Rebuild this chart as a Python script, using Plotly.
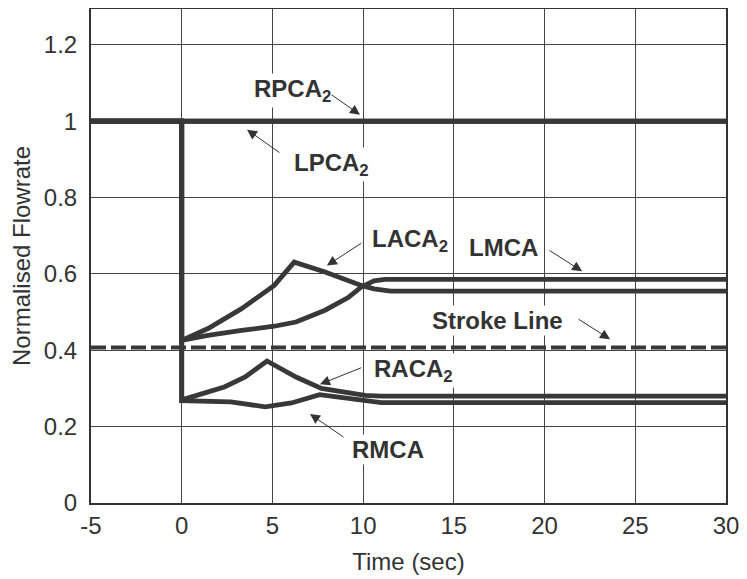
import plotly.graph_objects as go

# ---- data ----
pca_t = [-5, 30]
rpca2_v = [1.0, 1.0]
lpca2_v = [1.0, 1.0]

laca2_t = [-5, 0, 0, 1.45, 3.3, 5.1, 6.2, 7.9, 9.9, 10.6, 11.5, 30]
laca2_v = [1.0, 1.0, 0.426, 0.457, 0.509, 0.570, 0.631, 0.605, 0.570, 0.561, 0.555, 0.555]

lmca_t = [-5, 0, 0, 1.45, 3.3, 5.1, 6.3, 7.9, 9.2, 9.9, 10.6, 11.2, 30]
lmca_v = [1.0, 1.0, 0.426, 0.439, 0.452, 0.463, 0.474, 0.505, 0.539, 0.566, 0.582, 0.586, 0.586]

raca2_t = [-5, 0, 0, 2.35, 3.5, 4.7, 6.3, 7.7, 10.1, 11.0, 30]
raca2_v = [1.0, 1.0, 0.270, 0.304, 0.330, 0.372, 0.330, 0.300, 0.282, 0.280, 0.280]

rmca_t = [-5, 0, 0, 2.7, 4.6, 6.05, 7.6, 10.0, 11.0, 30]
rmca_v = [1.0, 1.0, 0.268, 0.265, 0.252, 0.262, 0.284, 0.269, 0.263, 0.263]

stroke_t = [-5, 30]
stroke_v = [0.407, 0.407]

x_ticks = [-5, 0, 5, 10, 15, 20, 25, 30]
x_tick_labels = ["-5", "0", "5", "10", "15", "20", "25", "30"]
y_ticks = [0, 0.2, 0.4, 0.6, 0.8, 1.0, 1.2]
y_tick_labels = ["0", "0.2", "0.4", "0.6", "0.8", "1", "1.2"]

LINE = "#383838"
FONT = "Liberation Sans, Arial, sans-serif"

fig = go.Figure()
for t, v in [(pca_t, rpca2_v), (pca_t, lpca2_v), (laca2_t, laca2_v), (lmca_t, lmca_v),
             (raca2_t, raca2_v), (rmca_t, rmca_v)]:
    fig.add_trace(go.Scatter(x=t, y=v, mode="lines", line=dict(color=LINE, width=4.8),
                             showlegend=False, hoverinfo="skip"))
fig.add_trace(go.Scatter(x=stroke_t, y=stroke_v, mode="lines",
                         line=dict(color=LINE, width=4, dash="15px,5px"),
                         showlegend=False, hoverinfo="skip"))

# labels (text) and arrows
labels = [
    ("<b>RPCA<sub>2</sub></b>", 3.88, 1.081),
    ("<b>LPCA<sub>2</sub></b>", 6.06, 0.888),
    ("<b>LACA<sub>2</sub></b>", 10.38, 0.688),
    ("<b>RACA<sub>2</sub></b>", 10.47, 0.346),
    ("<b>RMCA</b>", 9.28, 0.141),
    ("<b>LMCA</b>", 15.74, 0.668),
    ("<b>Stroke Line</b>", 13.69, 0.478),
]
arrows = [
    (8.18, 1.072, 9.83, 1.017),
    (5.47, 0.915, 3.60, 0.978),
    (9.98, 0.683, 8.00, 0.622),
    (9.98, 0.356, 7.62, 0.311),
    (9.00, 0.170, 7.07, 0.233),
    (20.19, 0.664, 22.07, 0.607),
    (21.79, 0.484, 23.61, 0.429),
]
annotations = []
for txt, x, y in labels:
    annotations.append(dict(text=txt, x=x, y=y, xref="x", yref="y", xanchor="left",
                            yanchor="middle", showarrow=False, bgcolor="white",
                            borderpad=1, font=dict(family=FONT, size=24, color="#333333")))
for tx, ty, hx, hy in arrows:
    annotations.append(dict(text="", x=hx, y=hy, ax=tx, ay=ty, xref="x", yref="y",
                            axref="x", ayref="y", showarrow=True, arrowhead=2,
                            arrowsize=2, arrowwidth=1, arrowcolor="#333333", standoff=0))

# the page adds an 8px body margin, so the figure is sized to compensate
fig.update_layout(
    width=739, height=571,
    margin=dict(l=83, r=21, t=1, b=76, autoexpand=False),
    paper_bgcolor="white", plot_bgcolor="white",
    font=dict(family=FONT, size=24, color="#333333"),
    annotations=annotations,
)
fig.update_xaxes(range=[-5, 30], tickvals=x_ticks, ticktext=x_tick_labels, showgrid=True,
                 gridcolor="#444444", gridwidth=1, showline=True, linecolor="#333333",
                 linewidth=2, mirror=True, zeroline=False, ticks="", automargin=False,
                 tickfont=dict(size=24), ticklabelstandoff=0,
                 title=dict(text="Time (sec)", font=dict(size=24), standoff=15))
fig.update_yaxes(range=[0, 1.294], tickvals=y_ticks, ticktext=y_tick_labels, showgrid=True,
                 gridcolor="#444444", gridwidth=1, showline=True, linecolor="#333333",
                 linewidth=2, mirror=True, zeroline=False, ticks="", automargin=False,
                 tickfont=dict(size=24), ticklabelstandoff=7,
                 title=dict(text="Normalised Flowrate", font=dict(size=24), standoff=6))

fig.write_html("out.html")
